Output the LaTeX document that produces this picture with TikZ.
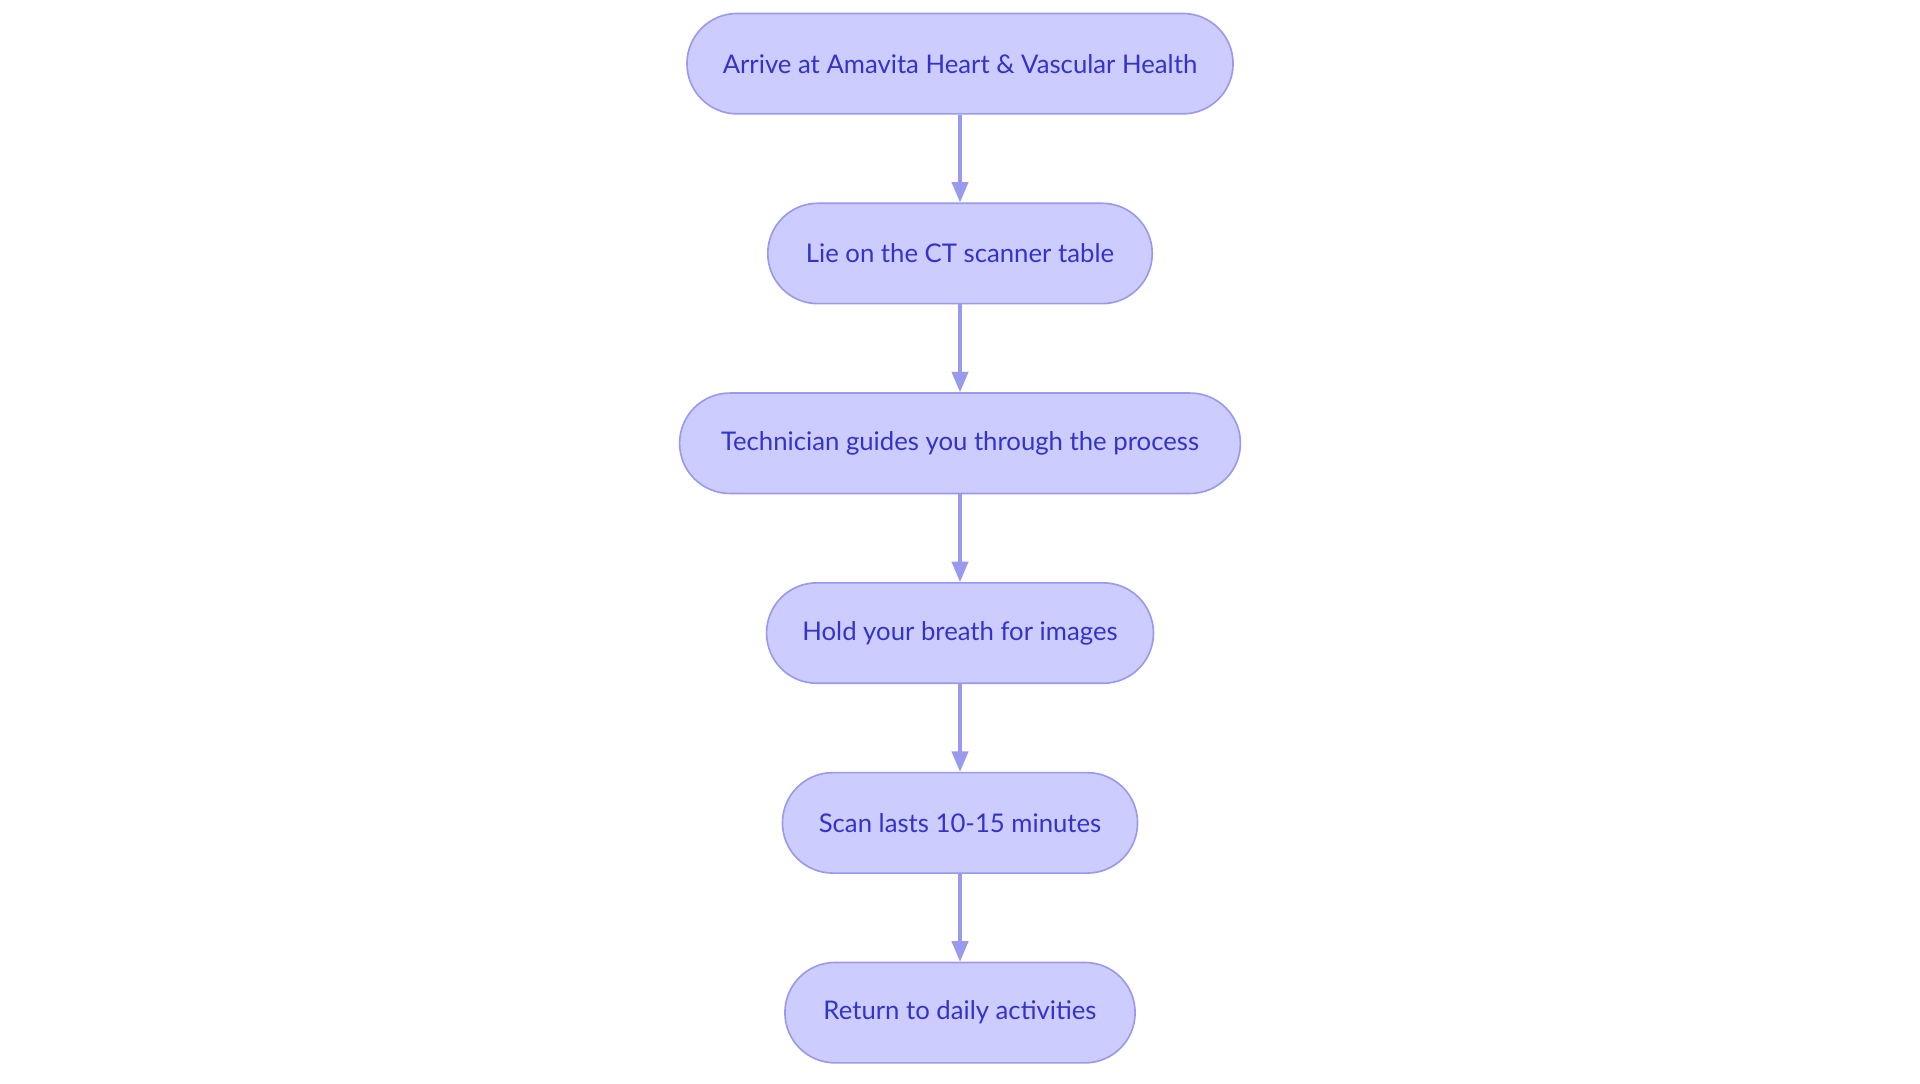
\documentclass[tikz,border=0pt]{standalone}
\usepackage{fontspec}
\setmainfont{Lato}
\usetikzlibrary{arrows.meta}
\definecolor{nfill}{HTML}{CCCCFF}
\definecolor{nline}{HTML}{9999EE}
\definecolor{ntext}{HTML}{3333CC}
\begin{document}
\begin{tikzpicture}[x=0.6pt,y=-0.6pt,
  stepbox/.style={draw=nline,line width=0.8pt,fill=nfill,text=ntext,rounded corners=24.6pt,minimum height=49.2pt,inner sep=0pt,font=\fontsize{12.6}{14}\selectfont},
  conn/.style={draw=nline,line width=1.5pt,-{Triangle[length=10pt,width=8pt]}}]
\useasboundingbox (0,0) rectangle (1568,884.5);
\node[stepbox,minimum width=446*0.6pt] (a) at (784,52) {Arrive at Amavita Heart \& Vascular Health};
\node[stepbox,minimum width=314*0.6pt] (b) at (784,207) {Lie on the CT scanner table};
\node[stepbox,minimum width=458*0.6pt] (c) at (784,362) {Technician guides you through the process};
\node[stepbox,minimum width=316*0.6pt] (d) at (784,517) {Hold your breath for images};
\node[stepbox,minimum width=290*0.6pt] (e) at (784,672) {Scan lasts 10-15 minutes};
\node[stepbox,minimum width=286*0.6pt] (f) at (784,827) {Return to daily activities};
\draw[conn] (a) -- (b);
\draw[conn] (b) -- (c);
\draw[conn] (c) -- (d);
\draw[conn] (d) -- (e);
\draw[conn] (e) -- (f);
\end{tikzpicture}
\end{document}
